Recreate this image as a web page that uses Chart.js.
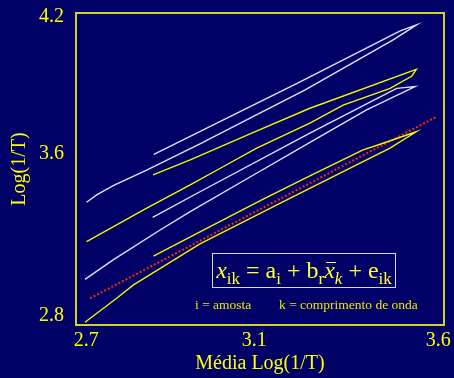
<!DOCTYPE html>
<html>
<head>
<meta charset="utf-8">
<script src="https://cdn.jsdelivr.net/npm/chart.js@4.4.0/dist/chart.umd.min.js"></script>
<style>
  html, body { margin: 0; padding: 0; background: #000066; }
  #wrap { position: relative; width: 454px; height: 378px; overflow: hidden; }
  canvas { display: block; }
  .eq {
    position: absolute; left: 212px; top: 253px; width: 182px; height: 33px;
    border: 1px solid #d8d8f0; color: #ffff33; text-align: center;
    font-family: "Liberation Serif", "Times New Roman", serif;
    font-size: 24px; line-height: 33px; white-space: nowrap;
  }
  .eq sub { font-size: 17px; vertical-align: -6px; line-height: 0; }
  .eq i { font-style: italic; }
  .bar { position: relative; font-style: italic; }
  .bar::before { content: ""; position: absolute; left: 2px; right: -1px; top: 5px; border-top: 1.5px solid #ffff33; }
  .note {
    position: absolute; top: 297px; color: #e8e800; white-space: nowrap;
    font-family: "Liberation Serif", "Times New Roman", serif; font-size: 13.5px;
  }
</style>
</head>
<body>
<div id="wrap">
  <canvas id="myChart" width="454" height="378"></canvas>
  <div class="eq"><i>x</i><sub>ik</sub> = a<sub>i</sub> + b<sub>r</sub><span class="bar">x</span><sub><i>k</i></sub> + e<sub>ik</sub></div>
  <div class="note" style="left:195px">i = amosta</div>
  <div class="note" style="left:279px">k = comprimento de onda</div>
</div>
<script>
// tick positions (labels shown with one decimal)
const xTickValues = [2.7, 3.13, 3.6];
const yTickValues = [2.8, 3.56, 4.2];

// each curve goes out from the left start to the tip and back
const whiteA_x = [2.701, 2.727, 2.769, 2.856, 2.991, 3.119, 3.260, 3.485, 3.545, 3.503, 3.247, 2.873];
const whiteA_y = [3.333, 3.367, 3.411, 3.484, 3.606, 3.727, 3.859, 4.093, 4.163, 4.135, 3.896, 3.557];

const yellowB_x = [2.701, 2.856, 2.966, 3.050, 3.136, 3.272, 3.357, 3.477, 3.533, 3.544, 3.272, 3.119, 2.966, 2.871];
const yellowB_y = [3.148, 3.306, 3.414, 3.499, 3.586, 3.703, 3.788, 3.866, 3.924, 3.955, 3.773, 3.653, 3.531, 3.461];

const whiteC_x = [2.697, 2.769, 2.889, 2.966, 3.119, 3.290, 3.417, 3.541, 3.494, 3.272, 2.991, 2.870];
const whiteC_y = [2.972, 3.063, 3.203, 3.289, 3.451, 3.632, 3.765, 3.874, 3.866, 3.656, 3.382, 3.262];

const yellowD_x = [2.697, 2.778, 2.821, 2.991, 3.213, 3.477, 3.544, 3.459, 3.408, 3.272, 3.149, 2.991, 2.872];
const yellowD_y = [2.771, 2.883, 2.946, 3.138, 3.344, 3.586, 3.663, 3.609, 3.578, 3.456, 3.344, 3.194, 3.081];

const fit_x = [2.710, 3.595];
const fit_y = [2.883, 3.732];

const pts = (xs, ys) => xs.map((x, i) => ({x: x, y: ys[i]}));

const yellow = '#f4f400';
const white = '#e0e0ff';
const tickFont = {family: 'Liberation Serif', size: 20, lineHeight: 1};

const frame = {
    id: 'frame',
    beforeDatasetsDraw(chart) {
        const {ctx, chartArea: a} = chart;
        ctx.save();
        ctx.strokeStyle = '#d4d030';
        ctx.lineWidth = 2;
        ctx.strokeRect(a.left, a.top, a.right - a.left, a.bottom - a.top);
        ctx.restore();
    }
};

const line = (data, color, extra) => Object.assign({
    data: data,
    showLine: true,
    borderColor: color,
    borderWidth: 1.4,
    pointRadius: 0,
    fill: false,
    tension: 0
}, extra || {});

const ctx = document.getElementById('myChart');

new Chart(ctx, {
    type: 'scatter',
    data: {
        datasets: [
            line(pts(whiteA_x, whiteA_y), white),
            line(pts(yellowB_x, yellowB_y), yellow),
            line(pts(whiteC_x, whiteC_y), white),
            line(pts(yellowD_x, yellowD_y), yellow),
            line(pts(fit_x, fit_y), '#ff2a00', {borderWidth: 2, borderDash: [2, 2]})
        ]
    },
    options: {
        responsive: false,
        animation: false,
        events: [],
        layout: {padding: {left: 4, right: 10, top: 13, bottom: 0}},
        plugins: {legend: {display: false}, tooltip: {enabled: false}},
        scales: {
            x: {
                type: 'linear',
                min: 2.674,
                max: 3.615,
                grid: {display: false, drawTicks: false},
                border: {display: false},
                afterBuildTicks: (scale) => { scale.ticks = xTickValues.map(v => ({value: v})); },
                afterFit: (scale) => {
                    scale.height = 53;
                    scale.paddingLeft = 0;
                    scale.paddingRight = 0;
                },
                ticks: {
                    color: '#ffff00',
                    font: tickFont,
                    padding: 6,
                    maxRotation: 0,
                    callback: (value) => value.toFixed(1)
                },
                title: {
                    display: true,
                    text: 'Média Log(1/T)',
                    color: '#ffff00',
                    font: {family: 'Liberation Serif', size: 20},
                    padding: {top: 0, bottom: 2}
                }
            },
            y: {
                type: 'linear',
                min: 2.758,
                max: 4.219,
                grid: {display: false, drawTicks: false},
                border: {display: false},
                afterBuildTicks: (scale) => { scale.ticks = yTickValues.map(v => ({value: v})); },
                afterFit: (scale) => {
                    scale.width = 72;
                    scale.paddingTop = 0;
                    scale.paddingBottom = 0;
                },
                ticks: {
                    color: '#ffff00',
                    font: tickFont,
                    padding: 12,
                    callback: (value) => value.toFixed(1)
                },
                title: {
                    display: true,
                    text: 'Log(1/T)',
                    color: '#ffff00',
                    font: {family: 'Liberation Serif', size: 20},
                    padding: {top: 4, bottom: 0}
                }
            }
        }
    },
    plugins: [frame]
});
</script>
</body>
</html>
